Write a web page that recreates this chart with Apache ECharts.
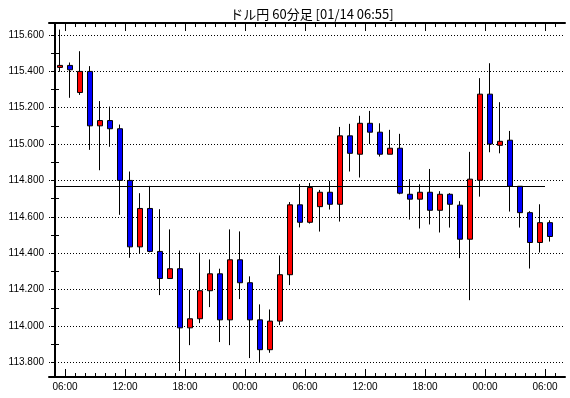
<!DOCTYPE html>
<html lang="ja">
<head>
<meta charset="UTF-8">
<title>ドル円 60分足</title>
<script src="https://cdn.jsdelivr.net/npm/echarts@6/dist/echarts.min.js"></script>
<style>
  html, body { margin: 0; padding: 0; background: #fff; }
  #main { width: 570px; height: 398px; }
</style>
</head>
<body>
<div id="main"></div>
<script>
// 60分足 01/12 05:00 〜 01/14 06:00
var startHour = 5;
var opens  = [115.421,115.432,115.283,115.399,115.100,115.129,115.084,114.800,114.435,114.646,
              114.410,114.261,114.315,113.990,114.040,114.194,114.287,114.034,114.364,114.238,
              114.034,113.870,114.027,114.282,114.666,114.570,114.656,114.735,114.669,115.045,
              114.944,115.114,115.065,114.944,114.977,114.724,114.697,114.735,114.636,114.724,
              114.664,114.477,114.801,115.274,114.993,115.021,114.768,114.623,114.459,114.568];
var closes = [115.432,115.408,115.399,115.100,115.129,115.084,114.800,114.435,114.646,114.410,
              114.261,114.315,113.990,114.040,114.194,114.287,114.034,114.364,114.238,114.034,
              113.870,114.027,114.282,114.666,114.570,114.761,114.735,114.669,115.045,114.949,
              115.114,115.065,114.944,114.977,114.730,114.697,114.735,114.636,114.724,114.669,
              114.477,114.807,115.274,115.000,115.015,114.768,114.623,114.459,114.568,114.492];
var lows   = [115.397,115.254,115.270,114.968,114.856,114.985,114.611,114.375,114.399,114.405,
              114.170,114.261,113.753,113.895,114.016,114.104,113.912,113.895,114.148,113.824,
              113.798,113.853,114.005,114.225,114.542,114.563,114.519,114.640,114.574,114.849,
              114.816,115.000,114.931,114.944,114.724,114.585,114.536,114.558,114.514,114.541,
              114.373,114.142,114.711,114.955,114.949,114.629,114.541,114.316,114.404,114.464];
var highs  = [115.629,115.448,115.510,115.428,115.236,115.206,115.107,114.849,114.730,114.770,
              114.642,114.531,114.415,114.199,114.403,114.366,114.315,114.531,114.520,114.273,
              114.119,114.091,114.388,114.681,114.780,114.786,114.748,114.797,115.094,115.111,
              115.155,115.182,115.114,115.078,115.056,114.807,114.779,114.863,114.741,114.730,
              114.686,114.957,115.362,115.444,115.230,115.072,114.768,114.631,114.669,114.581];
var yLabels = [113.8,114.0,114.2,114.4,114.6,114.8,115.0,115.2,115.4,115.6];
var yMinor  = [113.9,114.1,114.3,114.5,114.7,114.9,115.1,115.3,115.5];
var refLevel = 114.766;

var fontFamily = '"Liberation Sans", Arial, sans-serif';

// 足の開始時刻 (カテゴリ)
var barTimes = opens.map(function (v, i) {
    var h = (startHour + i) % 24;
    return (h < 10 ? '0' : '') + h + ':00';
});
// 6時間ごとの区切り (足の左端)
var majorSlots = [];
var allSlots = [];
barTimes.forEach(function (t, i) {
    allSlots.push(i);
    if (parseInt(t, 10) % 6 === 0) majorSlots.push(i);
});
allSlots.push(barTimes.length);

var candles = opens.map(function (o, i) {
    return [i + 0.5, o, closes[i], lows[i], highs[i]];
});

var frameLine = { show: true, lineStyle: { color: '#000', width: 2 } };
var xMin = -0.6, xMax = 51;

var myChart = echarts.init(document.getElementById('main'));
var option = {
    animation: false,
    backgroundColor: '#fff',
    title: {
        text: 'ドル円 60分足 [01/14 06:55]',
        left: 307,
        textAlign: 'center',
        top: 3,
        textStyle: { fontSize: 13, fontWeight: 'normal', color: '#000',
                     fontFamily: '"Noto Sans CJK JP", sans-serif' }
    },
    grid: { left: 49, right: 5, top: 23, bottom: 21 },
    xAxis: [
        {
            type: 'value', min: xMin, max: xMax, position: 'bottom',
            axisLine: frameLine,
            axisTick: { show: true, inside: true, length: 4, customValues: allSlots,
                        lineStyle: { color: '#000' } },
            axisLabel: { show: false },
            splitLine: { show: false }
        },
        {
            type: 'value', min: xMin, max: xMax, position: 'bottom',
            axisLine: { show: false },
            axisTick: { show: true, inside: true, length: 8, customValues: majorSlots,
                        lineStyle: { color: '#000' } },
            axisLabel: {
                customValues: majorSlots,
                formatter: function (v) { return barTimes[v]; },
                fontSize: 10, color: '#000', margin: 5, fontFamily: fontFamily
            },
            splitLine: { show: false }
        },
        {
            type: 'value', min: xMin, max: xMax, position: 'top',
            axisLine: frameLine,
            axisTick: { show: true, inside: true, length: 4, customValues: allSlots,
                        lineStyle: { color: '#000' } },
            axisLabel: { show: false },
            splitLine: { show: false }
        },
        {
            type: 'value', min: xMin, max: xMax, position: 'top',
            axisLine: { show: false },
            axisTick: { show: true, inside: true, length: 8, customValues: majorSlots,
                        lineStyle: { color: '#000' } },
            axisLabel: { show: false },
            splitLine: { show: false }
        }
    ],
    yAxis: [
        {
            type: 'value', min: 113.72, max: 115.665, position: 'left',
            axisLine: frameLine,
            axisTick: { show: true, inside: false, length: 3, customValues: yLabels,
                        lineStyle: { color: '#000' } },
            axisLabel: {
                customValues: yLabels,
                formatter: function (v) { return v.toFixed(3); },
                fontSize: 10, color: '#000', margin: 5, fontFamily: fontFamily
            },
            splitLine: { show: true, lineStyle: { color: '#000', width: 1, type: [1, 2] } }
        },
        {
            type: 'value', min: 113.72, max: 115.665, position: 'left',
            axisLine: { show: false },
            axisTick: { show: true, inside: true, length: 4, customValues: yMinor,
                        lineStyle: { color: '#000' } },
            axisLabel: { show: false },
            splitLine: { show: false }
        },
        {
            type: 'value', min: 113.72, max: 115.665, position: 'right',
            axisLine: frameLine,
            axisTick: { show: true, inside: true, length: 4,
                        customValues: yLabels.concat(yMinor), lineStyle: { color: '#000' } },
            axisLabel: { show: false },
            splitLine: { show: false }
        }
    ],
    series: [
        {
            type: 'candlestick',
            xAxisIndex: 0,
            yAxisIndex: 0,
            barWidth: 6,
            data: candles,
            itemStyle: {
                color: '#ff0000',
                color0: '#0000ff',
                borderColor: '#000',
                borderColor0: '#000',
                borderColorDoji: '#000',
                borderWidth: 1
            },
            emphasis: { disabled: true },
            markLine: {
                silent: true,
                symbol: 'none',
                label: { show: false },
                lineStyle: { color: '#000', width: 1, type: 'solid' },
                data: [[{ coord: [0, refLevel] }, { coord: [49, refLevel] }]]
            }
        }
    ]
};
myChart.setOption(option);
</script>
</body>
</html>
